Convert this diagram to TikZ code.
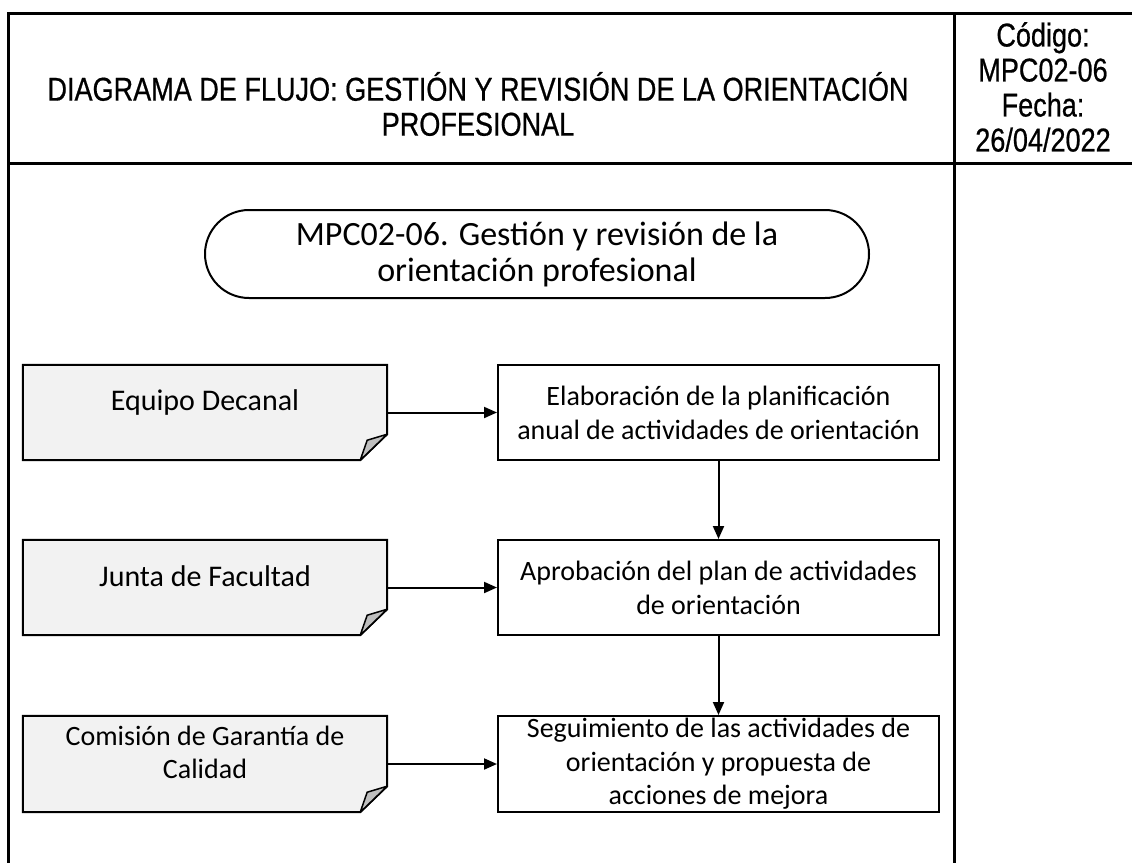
\documentclass[tikz,border=0pt]{standalone}
\usepackage{fontspec}
\setmainfont{Carlito}
\newfontfamily\narrowfont{Liberation Sans}[FakeStretch=0.82,FakeBold=0.6]
\usetikzlibrary{arrows.meta,backgrounds}
\definecolor{docgray}{HTML}{F2F2F2}
\definecolor{flapgray}{HTML}{BFBFBF}
\begin{document}
\begin{tikzpicture}[x=1pt,y=-1pt,
  tablerule/.style={line width=3pt,line cap=rect},
  headtext/.style={align=center,inner sep=0pt,font=\narrowfont\fontsize{33}{35}\selectfont},
  termbox/.style={draw,line width=2pt,rounded corners=44pt,minimum width=664pt,minimum height=88pt,inner sep=0pt,align=center,font=\fontsize{34}{36}\selectfont},
  procbox/.style={draw,line width=2pt,minimum width=441pt,minimum height=95pt,inner sep=0pt,align=center,font=\fontsize{28}{34}\selectfont},
  docbase/.style={minimum width=364pt,minimum height=95pt,inner sep=0pt},
  docline/.style={draw,line width=2pt,fill=docgray,line join=miter},
  flapline/.style={draw,line width=1.5pt,fill=flapgray,line join=round},
  doctext/.style={align=center,inner sep=0pt},
  flow/.style={line width=2pt,-{Triangle[length=13pt,width=11pt]}}
  ]
\useasboundingbox (0,0) rectangle (1132,862);
% table
\draw[tablerule] (1132,13) -- (8,13) -- (8,862);
\draw[tablerule] (954,13) -- (954,862);
\draw[tablerule] (8,163) -- (1132,163);
\node[headtext] (title) at (478,104) {DIAGRAMA DE FLUJO: GESTIÓN Y REVISIÓN DE LA ORIENTACIÓN\\PROFESIONAL};
\node[headtext] (code) at (1043,87) {Código:\\MPC02-06\\Fecha:\\26/04/2022};
% terminal
\node[termbox] (start) at (537,254) {MPC02-06. Gestión y revisión de la\\orientación profesional};
% document shapes (frames)
\node[docbase] (d1) at (205,412.5) {};
\node[docbase] (d2) at (205,587.5) {};
\node[docbase,minimum height=96pt] (d3) at (205,764) {};
\begin{scope}[on background layer]
\foreach \n in {d1,d2,d3} {
  \filldraw[docline] (\n.north west) -- (\n.north east) -- ([yshift=26pt]\n.south east) -- ([xshift=-27pt]\n.south east) -- (\n.south west) -- cycle;
  \filldraw[flapline] ([yshift=26pt]\n.south east) -- ([xshift=-20pt,yshift=20pt]\n.south east) -- ([xshift=-27pt]\n.south east) -- cycle;
}
\end{scope}
\node[doctext,font=\fontsize{30}{35}\selectfont] (d1t) at (205,402) {Equipo Decanal};
\node[doctext,font=\fontsize{30}{35}\selectfont] (d2t) at (205,576) {Junta de Facultad};
\node[doctext,font=\fontsize{28}{33}\selectfont] (d3t) at (205,752) {Comisión de Garantía de\\Calidad};
% process boxes
\node[procbox] (p1) at (718.5,412.5) {Elaboración de la planificación\\anual de actividades de orientación};
\node[procbox] (p2) at (718.5,587.5) {Aprobación del plan de actividades\\de orientación};
\node[procbox,minimum height=96pt,font=\fontsize{28}{33.5}\selectfont] (p3) at (718.5,764) {Seguimiento de las actividades de\\orientación y propuesta de\\acciones de mejora};
% connectors
\draw[flow] (d1.east) -- (p1.west);
\draw[flow] (d2.east) -- (p2.west);
\draw[flow] (d3.east) -- (p3.west);
\draw[flow] (p1.south) -- (p2.north);
\draw[flow] (p2.south) -- (p3.north);
\end{tikzpicture}
\end{document}
